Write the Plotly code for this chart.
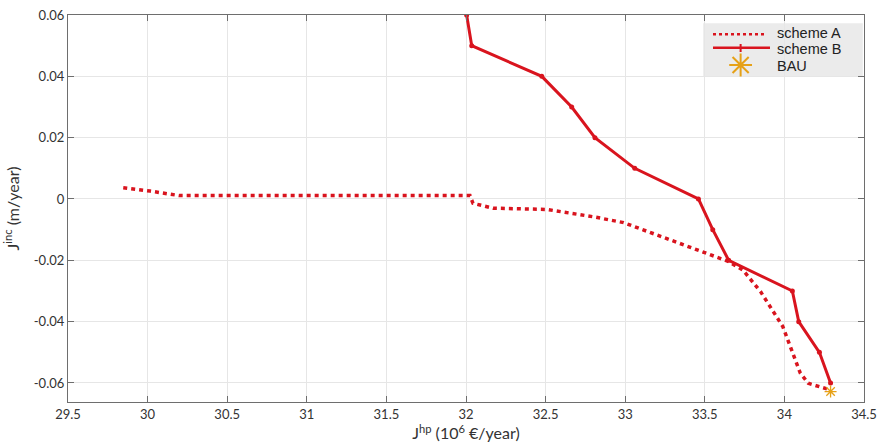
import plotly.graph_objects as go

scheme_a_x = [29.847, 30.015, 30.20, 30.5, 31.0, 31.5, 32.025, 32.044, 32.17, 32.507, 32.80, 32.99, 33.32, 33.65, 33.74, 33.85, 33.99, 34.04, 34.10, 34.15, 34.29]
scheme_a_y = [0.0037, 0.0026, 0.0011, 0.0011, 0.0011, 0.0011, 0.0011, -0.0014, -0.003, -0.0034, -0.0058, -0.0077, -0.0139, -0.0204, -0.0232, -0.0302, -0.0416, -0.0482, -0.0568, -0.0601, -0.0623]

scheme_b_x = [32.004, 32.036, 32.476, 32.664, 32.81, 33.06, 33.46, 33.55, 33.65, 34.05, 34.09, 34.22, 34.29]
scheme_b_y = [0.06, 0.05, 0.04, 0.03, 0.02, 0.01, 0.0, -0.01, -0.02, -0.03, -0.04, -0.05, -0.06]

bau_x = [34.29]
bau_y = [-0.0628]

x_ticks = [29.5, 30, 30.5, 31, 31.5, 32, 32.5, 33, 33.5, 34, 34.5]
x_tick_labels = ["29.5", "30", "30.5", "31", "31.5", "32", "32.5", "33", "33.5", "34", "34.5"]
y_ticks = [0.06, 0.04, 0.02, 0, -0.02, -0.04, -0.06]
y_tick_labels = ["0.06", "0.04", "0.02", "0", "-0.02", "-0.04", "-0.06"]

legend_names = ["scheme A", "scheme B", "BAU"]

red = "#d9141e"
orange = "#e6a117"
dotdash = "4px,4px"

fig = go.Figure()
fig.add_trace(go.Scatter(x=scheme_a_x, y=scheme_a_y, mode="lines", name=legend_names[0],
                         line=dict(color=red, width=3.5, dash=dotdash), showlegend=False))
fig.add_trace(go.Scatter(x=scheme_b_x, y=scheme_b_y, mode="lines+markers", name=legend_names[1],
                         line=dict(color=red, width=3),
                         marker=dict(color=red, size=5, symbol="circle"), showlegend=False))
fig.add_trace(go.Scatter(x=bau_x, y=bau_y, mode="markers", name=legend_names[2],
                         marker=dict(symbol="asterisk-open", size=10, color=orange,
                                     line=dict(color=orange, width=1.3)), showlegend=False))

# custom legend (paper coordinates of plot area)
fig.add_shape(type="rect", xref="paper", yref="paper", x0=0.798, x1=0.9985, y0=0.8406, y1=0.9786,
              fillcolor="#ebebeb", line=dict(width=0), layer="between")
fig.add_shape(type="line", xref="paper", yref="paper", x0=0.8103, x1=0.8781, y0=0.9501, y1=0.9501,
              line=dict(color=red, width=2.5, dash="3px,3px"), layer="above")
fig.add_shape(type="line", xref="paper", yref="paper", x0=0.8103, x1=0.8819, y0=0.9155, y1=0.9155,
              line=dict(color=red, width=2.5), layer="above")
fig.add_shape(type="line", xref="paper", yref="paper", x0=0.845, x1=0.845, y0=0.9044, y1=0.9251,
              line=dict(color=red, width=2), layer="above")
# legend star on an overlay axis spanning the plot area
fig.add_trace(go.Scatter(x=[0.845], y=[0.8708], xaxis="x2", yaxis="y2", mode="markers",
                         marker=dict(symbol="asterisk-open", size=19, color=orange,
                                     line=dict(color=orange, width=2)),
                         showlegend=False, hoverinfo="skip"))
for name, fy in zip(legend_names, [0.9535, 0.9109, 0.8682]):
    fig.add_annotation(x=0.8894, y=fy, xref="paper", yref="paper", text=name, showarrow=False,
                       xanchor="left", yanchor="middle", borderpad=0,
                       font=dict(family="Liberation Sans", size=14.5, color="#222222"))

axis_common = dict(showgrid=True, gridcolor="#e6e6e6", gridwidth=1, zeroline=False,
                   showline=True, linecolor="#6e6e6e", linewidth=1.2, mirror="ticks",
                   ticks="inside", ticklen=6, tickcolor="#6e6e6e", automargin=False,
                   tickfont=dict(family="Lato", size=13, color="#333333"))

fig.update_layout(
    width=878, height=446,
    margin=dict(l=68, r=14, t=15, b=44),
    paper_bgcolor="white", plot_bgcolor="white",
    xaxis=dict(range=[29.5, 34.5], tickvals=x_ticks, ticktext=x_tick_labels,
               title=dict(text="J<sup>hp</sup> (10<sup>6</sup> €/year)", standoff=4,
                          font=dict(family="Lato", size=16, color="#333333")),
               **axis_common),
    yaxis=dict(range=[-0.0662, 0.06], tickvals=y_ticks, ticktext=y_tick_labels,
               title=dict(text="J<sup>inc</sup> (m/year)", standoff=10,
                          font=dict(family="Lato", size=16, color="#333333")),
               **axis_common),
    xaxis2=dict(overlaying="x", range=[0, 1], visible=False),
    yaxis2=dict(overlaying="y", range=[0, 1], visible=False),
    showlegend=False,
)

fig.write_html("out.html", config={"displayModeBar": False},
               post_script="document.body.style.margin='0';document.body.style.overflow='hidden';")
